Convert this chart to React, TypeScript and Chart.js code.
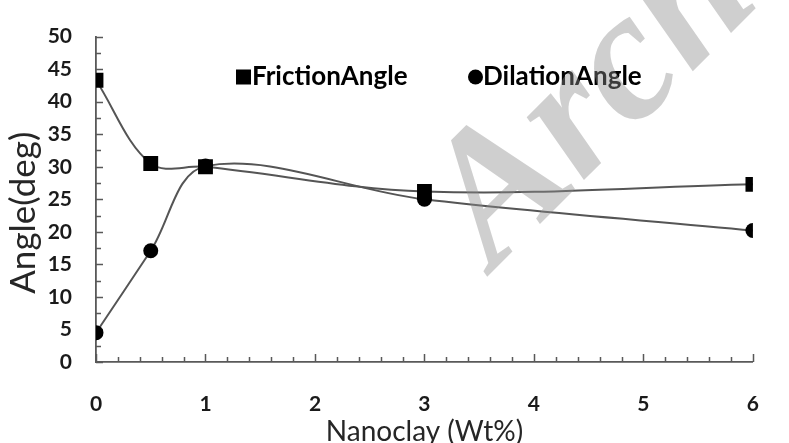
import React, { useEffect, useRef } from "react";
import { Chart, registerables } from "chart.js";

Chart.register(...registerables);

// ---- data ----
const nanoclayWt = [0, 0.5, 1, 3, 6];
const frictionAngle = [43.3, 30.5, 30.0, 26.2, 27.3];
const dilationAngle = [4.5, 17.1, 30.1, 25.0, 20.2];
const seriesNames = ["FrictionAngle", "DilationAngle"];
const xTitle = "Nanoclay (Wt%)";
const yTitle = "Angle(deg)";
const watermarkText = "Archive of SID";

const AXIS_COLOR = "#595959";
const LINE_COLOR = "#555555";

const minorTicksPlugin = {
  id: "minorTicks",
  beforeDatasetsDraw(chart: any) {
    const { ctx, chartArea, scales } = chart;
    const xs = scales.x;
    const ys = scales.y;
    ctx.save();
    ctx.strokeStyle = AXIS_COLOR;
    ctx.lineWidth = 1.5;
    ctx.beginPath();
    for (let i = 0; i <= 30; i++) {
      const v = i * 0.2;
      const px = Math.round(xs.getPixelForValue(v)) + 0.5;
      const len = i % 5 === 0 ? 8 : 5;
      ctx.moveTo(px, chartArea.bottom);
      ctx.lineTo(px, chartArea.bottom - len);
    }
    for (let i = 0; i <= 20; i++) {
      const v = i * 2.5;
      const py = Math.round(ys.getPixelForValue(v)) + 0.5;
      const len = i % 2 === 0 ? 7 : 5;
      ctx.moveTo(chartArea.left, py);
      ctx.lineTo(chartArea.left + len, py);
    }
    ctx.stroke();
    ctx.restore();
  },
};

const legendPlugin = {
  id: "inlineLegend",
  afterDatasetsDraw(chart: any) {
    const { ctx } = chart;
    ctx.save();
    ctx.fillStyle = "#000";
    ctx.textBaseline = "middle";
    ctx.textAlign = "left";
    ctx.font = "bold 26px Lato";
    const y = 77;
    ctx.fillRect(236, y - 7.5, 15, 15);
    ctx.fillText(seriesNames[0], 252, y);
    ctx.beginPath();
    ctx.arc(475.5, y, 7.5, 0, Math.PI * 2);
    ctx.fill();
    ctx.fillText(seriesNames[1], 483, y);
    ctx.restore();
  },
};

const watermarkPlugin = {
  id: "watermark",
  afterDraw(chart: any) {
    const { ctx } = chart;
    ctx.save();
    ctx.translate(494, 270);
    ctx.rotate(-Math.PI / 4);
    ctx.font = 'italic bold 185px "Liberation Serif"';
    ctx.fillStyle = "rgba(140,140,140,0.42)";
    ctx.textBaseline = "alphabetic";
    ctx.fillText(watermarkText, 0, 0);
    ctx.restore();
  },
};

export default function App() {
  const canvasRef = useRef<HTMLCanvasElement | null>(null);

  useEffect(() => {
    if (!canvasRef.current) return;
    const chart = new Chart(canvasRef.current, {
      type: "line",
      data: {
        datasets: [
          {
            label: seriesNames[0],
            data: nanoclayWt.map((x, i) => ({ x, y: frictionAngle[i] })),
            borderColor: LINE_COLOR,
            borderWidth: 2,
            backgroundColor: "#000",
            pointStyle: "rect",
            pointRadius: 10.5,
            pointBackgroundColor: "#000",
            pointBorderColor: "#000",
            pointBorderWidth: 0,
            tension: 0.35,
          },
          {
            label: seriesNames[1],
            data: nanoclayWt.map((x, i) => ({ x, y: dilationAngle[i] })),
            borderColor: LINE_COLOR,
            borderWidth: 2,
            backgroundColor: "#000",
            pointStyle: "circle",
            pointRadius: 7.5,
            pointBackgroundColor: "#000",
            pointBorderColor: "#000",
            pointBorderWidth: 0,
            tension: 0.35,
          },
        ],
      },
      options: {
        animation: false,
        responsive: false,
        devicePixelRatio: 1,
        layout: { padding: { top: 29, right: 25, left: 0, bottom: 0 } },
        plugins: {
          legend: { display: false },
          tooltip: { enabled: false },
        },
        scales: {
          x: {
            type: "linear",
            min: 0,
            max: 6,
            grid: { display: false, drawTicks: false },
            border: { display: true, color: AXIS_COLOR, width: 1.8 },
            ticks: {
              stepSize: 1,
              padding: 30,
              color: "#1a1a1a",
              font: { family: "Lato", size: 21, weight: "bold" },
            },
            title: {
              display: true,
              text: xTitle,
              color: "#262626",
              font: { family: "Lato", size: 28, lineHeight: 0.8 },
              padding: { top: 0, bottom: 0 },
            },
            afterFit(scale: any) {
              scale.height = 81;
            },
          },
          y: {
            min: 0,
            max: 50,
            grid: { display: false, drawTicks: false },
            border: { display: true, color: AXIS_COLOR, width: 1.8 },
            ticks: {
              stepSize: 5,
              padding: 24,
              color: "#1a1a1a",
              font: { family: "Lato", size: 21, weight: "bold" },
            },
            title: {
              display: true,
              text: yTitle + "   ",
              color: "#262626",
              font: { family: "Lato", size: 35, lineHeight: 1.0 },
              padding: { top: 6, bottom: 0 },
            },
            afterFit(scale: any) {
              scale.width = 96;
            },
          },
        },
      },
      plugins: [minorTicksPlugin, legendPlugin, watermarkPlugin],
    } as any);
    return () => chart.destroy();
  }, []);

  return (
    <div
      style={{
        position: "fixed",
        left: 0,
        top: 0,
        width: 789,
        height: 443,
        background: "#fff",
      }}
    >
      <canvas ref={canvasRef} width={789} height={443} />
    </div>
  );
}
